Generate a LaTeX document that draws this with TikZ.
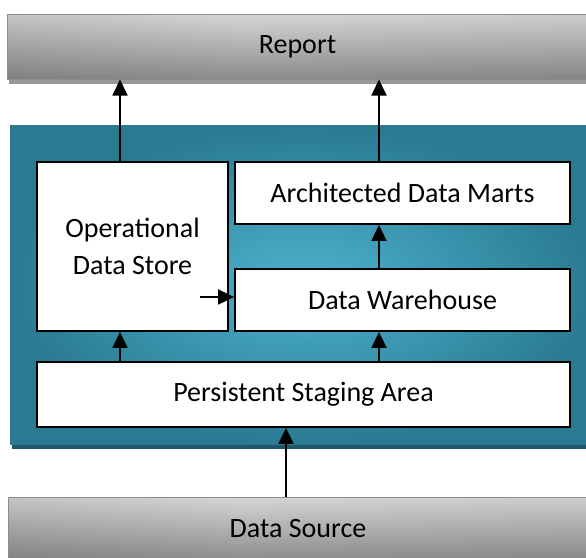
\documentclass[tikz,border=0pt]{standalone}
\usepackage{fontspec}
\setmainfont{Carlito}
\usetikzlibrary{arrows.meta,fadings}
\definecolor{tealout}{HTML}{2A7A92}
\definecolor{tealin}{HTML}{4DB2CE}
\definecolor{tealshadow}{HTML}{1E5868}
\pgfdeclarehorizontalshading{metal}{100bp}{color(0bp)=(black!50); color(15bp)=(black!26); color(45bp)=(black!16); color(80bp)=(black!20); color(100bp)=(black!45)}
\tikzset{
  txt/.style={font=\fontsize{28}{37}\selectfont, text=black},
  box/.style={txt, draw=black, line width=1.8pt, fill=white, align=center, inner sep=0pt},
  band/.style={txt, shading=metal, draw=black!45, line width=1pt, inner sep=0pt,
    path picture={\fill[black,opacity=0.35,path fading=north] (path picture bounding box.south west) rectangle (path picture bounding box.north east);}},
  arr/.style={line width=1.8pt, -{Triangle[length=16pt,width=15pt]}}
}
\begin{document}
\begin{tikzpicture}[x=1pt,y=-1pt]
\useasboundingbox (0,0) rectangle (586,557);
% Report band
\fill[black!40] (9,19) rectangle (590,84);
\node[band, minimum width=581pt, minimum height=65pt] (report) at (297.5,46.5) {Report};
% Teal panel
\fill[tealshadow] (12,130) rectangle (596,449);
\shade[inner color=tealin, outer color=tealout] (10,125) rectangle (596,444);
% Boxes
\node[box, minimum width=191pt, minimum height=169pt] (ods) at (132.5,246.5) {Operational\\Data Store};
\node[box, minimum width=335pt, minimum height=62pt] (adm) at (402.5,193) {Architected Data Marts};
\node[box, minimum width=335pt, minimum height=62pt] (dw) at (402.5,300) {Data Warehouse};
\node[box, minimum width=533pt, minimum height=65pt] (psa) at (303.5,394.5) {Persistent Staging Area};
% Data Source band
\fill[black!40] (10,501) rectangle (590,565);
\node[band, minimum width=580pt, minimum height=64pt] (ds) at (298,529) {Data Source};
% connectors
\coordinate (cl) at (120,0);
\coordinate (cr) at (379,0);
\coordinate (cm) at (286,0);
\coordinate (odsin) at (200,297);
\draw[arr] (cl |- ods.north) -- (cl |- report.south);
\draw[arr] (cr |- adm.north) -- (cr |- report.south);
\draw[arr] (cr |- dw.north) -- (cr |- adm.south);
\draw[arr] (cl |- psa.north) -- (cl |- ods.south);
\draw[arr] (cr |- psa.north) -- (cr |- dw.south);
\draw[arr] (cm |- ds.north) -- (cm |- psa.south);
\draw[arr] (odsin) -- (odsin -| dw.west);
\end{tikzpicture}
\end{document}
